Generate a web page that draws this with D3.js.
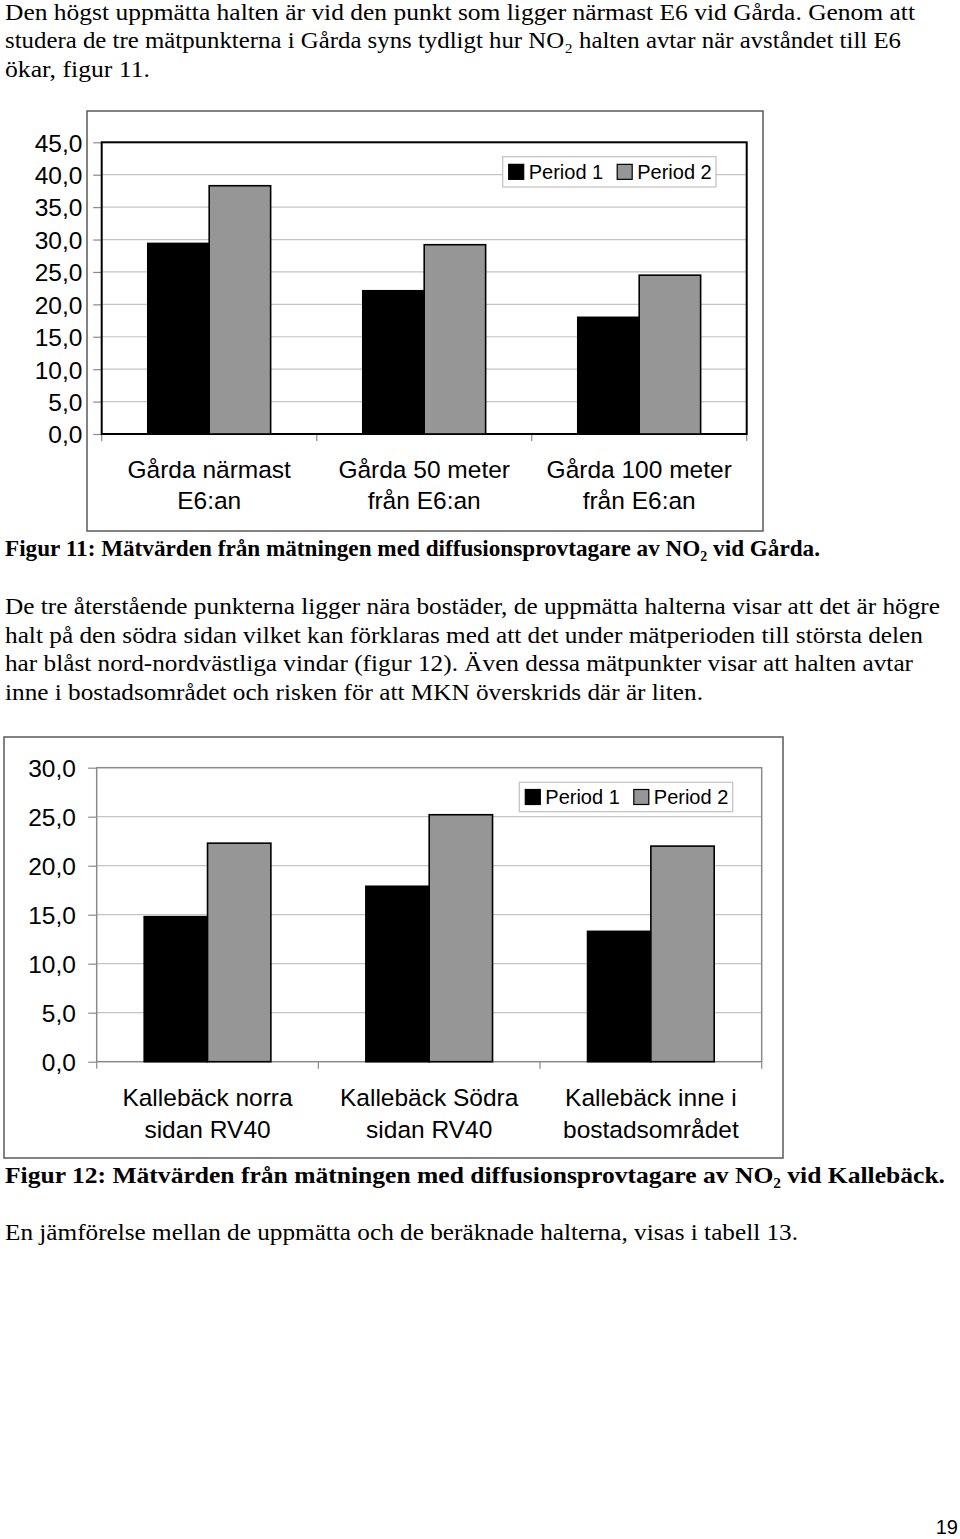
<!DOCTYPE html>
<html><head><meta charset="utf-8">
<script src="https://cdn.jsdelivr.net/npm/d3@7"></script>
<style>body{margin:0;background:#fff}svg{display:block}</style>
</head><body>
<script>
// ---------- DATA ----------
const seriesNames = ["Period 1", "Period 2"];
const barColors = ["#000000", "#969696"];

const fig11Categories = [["Gårda närmast", "E6:an"], ["Gårda 50 meter", "från E6:an"], ["Gårda 100 meter", "från E6:an"]];
const fig11Period1 = [29.4, 22.1, 18.0];
const fig11Period2 = [38.3, 29.2, 24.5];
const fig11Ticks = [0, 5, 10, 15, 20, 25, 30, 35, 40, 45];

const fig12Categories = [["Kallebäck norra", "sidan RV40"], ["Kallebäck Södra", "sidan RV40"], ["Kallebäck inne i", "bostadsområdet"]];
const fig12Period1 = [14.8, 17.9, 13.3];
const fig12Period2 = [22.3, 25.2, 22.0];
const fig12Ticks = [0, 5, 10, 15, 20, 25, 30];

// body text lines
const bodyLines = [
  {t: "Den högst uppmätta halten är vid den punkt som ligger närmast E6 vid Gårda. Genom att", y: 19.5, w: 910},
  {t: "studera de tre mätpunkterna i Gårda syns tydligt hur NO₂ halten avtar när avståndet till E6", y: 48, w: 896},
  {t: "ökar, figur 11.", y: 76.5, w: 145},
  {t: "Figur 11: Mätvärden från mätningen med diffusionsprovtagare av NO₂ vid Gårda.", y: 556, w: 815, bold: true},
  {t: "De tre återstående punkterna ligger nära bostäder, de uppmätta halterna visar att det är högre", y: 614, w: 935},
  {t: "halt på den södra sidan vilket kan förklaras med att det under mätperioden till största delen", y: 642.5, w: 918},
  {t: "har blåst nord-nordvästliga vindar (figur 12). Även dessa mätpunkter visar att halten avtar", y: 671, w: 908},
  {t: "inne i bostadsområdet och risken för att MKN överskrids där är liten.", y: 699.5, w: 698},
  {t: "Figur 12: Mätvärden från mätningen med diffusionsprovtagare av NO₂ vid Kallebäck.", y: 1183, w: 940, bold: true},
  {t: "En jämförelse mellan de uppmätta och de beräknade halterna, visas i tabell 13.", y: 1240, w: 793}
];
const pageNumber = "19";

// ---------- RENDER ----------
const W = 960, H = 1539;
const svg = d3.select("body").append("svg").attr("width", W).attr("height", H);
svg.append("rect").attr("width", W).attr("height", H).attr("fill", "#fff");

const sans = "'Liberation Sans', Arial, sans-serif";
const serif = "'Liberation Serif', 'Times New Roman', serif";
const locale = d3.formatLocale({decimal: ",", thousands: " ", grouping: [3], currency: ["", " kr"]});
const fmt = locale.format(".1f");

bodyLines.forEach(l => {
  svg.append("text").attr("x", 5).attr("y", l.y)
    .attr("font-family", serif).attr("font-size", 23)
    .attr("font-weight", l.bold ? "bold" : "normal")
    .attr("textLength", l.w).attr("lengthAdjust", "spacingAndGlyphs").attr("fill", "#000")
    .text(l.t);
});

svg.append("text").attr("x", 958).attr("y", 1534).attr("text-anchor", "end")
  .attr("font-family", sans).attr("font-size", 20).text(pageNumber);

function drawChart(cfg) {
  const g = svg.append("g");
  g.append("rect").attr("x", cfg.frame[0]).attr("y", cfg.frame[1])
    .attr("width", cfg.frame[2] - cfg.frame[0]).attr("height", cfg.frame[3] - cfg.frame[1])
    .attr("fill", "#fff").attr("stroke", "#5a5a5a").attr("stroke-width", 1.5);

  const n = cfg.categories.length;
  const x = d3.scaleBand().domain(d3.range(n)).range([cfg.left, cfg.right]).padding(0);
  const xs = d3.scaleBand().domain([0, 1]).range([0, x.bandwidth()]).paddingInner(0).paddingOuter(0.75);
  const y = d3.scaleLinear().domain([0, d3.max(cfg.ticks)]).range([cfg.bottom, cfg.top]);

  // gridlines
  g.selectAll(".grid").data(cfg.ticks.filter(t => t > 0 && t < d3.max(cfg.ticks))).join("line")
    .attr("x1", cfg.left).attr("x2", cfg.right).attr("y1", d => y(d)).attr("y2", d => y(d))
    .attr("stroke", "#c4c4c4").attr("stroke-width", 1.2);

  // y axis
  const ax = g.append("g").attr("transform", `translate(${cfg.left},0)`)
    .call(d3.axisLeft(y).tickValues(cfg.ticks).tickFormat(fmt).tickSize(8.5).tickPadding(cfg.tickPad));
  ax.select(".domain").remove();
  ax.selectAll(".tick line").attr("stroke", "#8a8a8a").attr("stroke-width", 1.2);
  ax.selectAll(".tick text").attr("font-family", sans).attr("font-size", 24.5).attr("fill", "#000").attr("dy", "0.36em");

  // x boundary ticks
  const bounds = x.domain().map(d => x(d)).concat([cfg.right]);
  g.selectAll(".xt").data(bounds).join("line")
    .attr("x1", d => d).attr("x2", d => d).attr("y1", cfg.bottom).attr("y2", cfg.bottom + 7)
    .attr("stroke", "#8a8a8a").attr("stroke-width", 1.2);

  // plot border
  g.append("rect").attr("x", cfg.left).attr("y", cfg.top)
    .attr("width", cfg.right - cfg.left).attr("height", cfg.bottom - cfg.top)
    .attr("fill", "none").attr("stroke", cfg.plotStroke).attr("stroke-width", cfg.plotStrokeW);

  // bars
  const series = [cfg.p1, cfg.p2];
  series.forEach((vals, si) => {
    g.selectAll(".bar" + si).data(vals).join("rect")
      .attr("x", (d, i) => x(i) + xs(si)).attr("width", xs.bandwidth())
      .attr("y", d => y(d)).attr("height", d => y(0) - y(d))
      .attr("fill", barColors[si]).attr("stroke", "#000").attr("stroke-width", 1.6);
  });

  // category labels
  cfg.categories.forEach((lines, i) => {
    const t = g.append("text").attr("text-anchor", "middle").attr("font-family", sans).attr("font-size", 24.5).attr("fill", "#000");
    lines.forEach((ln, j) => t.append("tspan").attr("x", x(i) + x.bandwidth() / 2).attr("y", cfg.labelY[j]).text(ln));
  });

  // legend
  const L = cfg.legend;
  g.append("rect").attr("x", L.x).attr("y", L.y).attr("width", L.w).attr("height", L.h)
    .attr("fill", "#fff").attr("stroke", "#c0c0c0").attr("stroke-width", 1.2);
  const cy = L.y + L.h / 2;
  seriesNames.forEach((s, si) => {
    const ox = L.x + 6 + si * 108.5;
    g.append("rect").attr("x", ox).attr("y", cy - 7.5).attr("width", 15).attr("height", 15)
      .attr("fill", barColors[si]).attr("stroke", "#000").attr("stroke-width", 1.2);
    g.append("text").attr("x", ox + 20).attr("y", cy + 7).attr("font-family", sans).attr("font-size", 20).text(s);
  });
}

drawChart({
  frame: [87, 111, 763, 531], left: 101.7, right: 746.7, top: 142.3, bottom: 434,
  ticks: fig11Ticks, tickPad: 10.8, categories: fig11Categories, p1: fig11Period1, p2: fig11Period2,
  plotStroke: "#000", plotStrokeW: 2, labelY: [477.5, 508.5],
  legend: {x: 502.7, y: 156.7, w: 213.3, h: 30.3}
});

drawChart({
  frame: [4, 737, 783, 1158], left: 96.7, right: 761.7, top: 767.7, bottom: 1061.7,
  ticks: fig12Ticks, tickPad: 12.3, categories: fig12Categories, p1: fig12Period1, p2: fig12Period2,
  plotStroke: "#8a8a8a", plotStrokeW: 1.5, labelY: [1105.5, 1137.5],
  legend: {x: 519.3, y: 782.3, w: 213.4, h: 29.4}
});
</script>
</body></html>
